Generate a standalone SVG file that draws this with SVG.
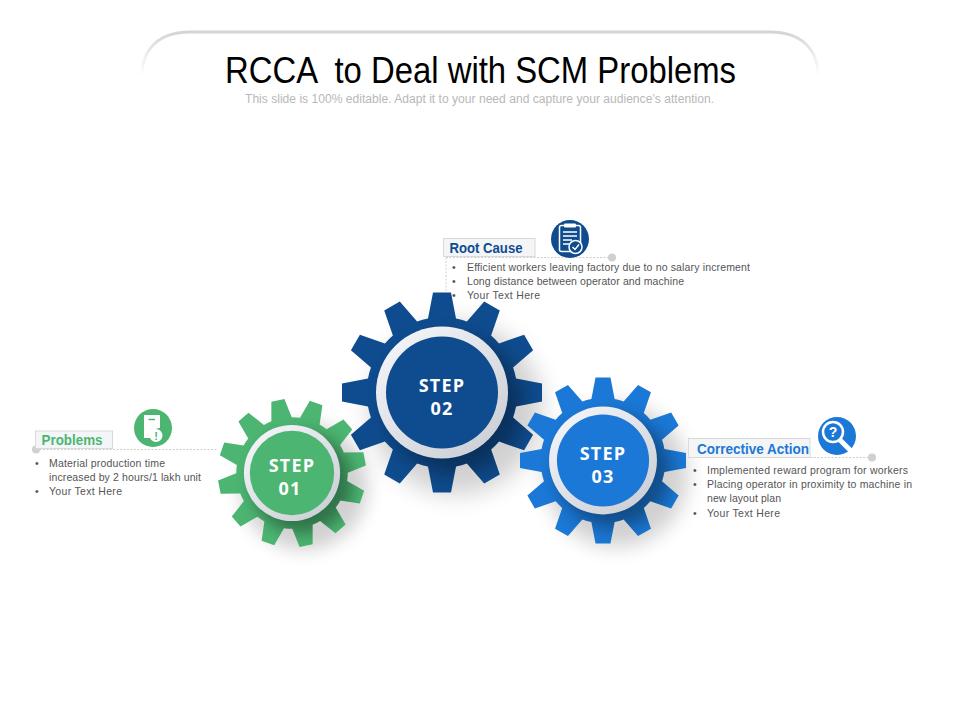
<svg xmlns="http://www.w3.org/2000/svg" width="960" height="720" viewBox="0 0 960 720">
<style>
text{font-family:"Liberation Sans",Arial,sans-serif}
.body{font-size:10.5px;fill:#555}
.hd{font-size:14px;font-weight:700}
.st{font-family:"Open Sans","Liberation Sans",sans-serif;font-size:18px;font-weight:700;fill:#fff;text-anchor:middle;letter-spacing:1.2px}
.box{fill:#f3f5f7;stroke:#d9d9d9;stroke-width:1}
.lead{fill:none;stroke:#cfcfcf;stroke-width:1;stroke-dasharray:2 1.5}
.dot{fill:#d0d0d0}
.ring{fill:url(#ringG)}
.cast{fill:#000;opacity:.18;filter:url(#blurW)}
.inner{fill:#000;opacity:.36;filter:url(#blur)}
</style>
<defs>
<path id="gear" d="M-14-74L-9-100L9-100L14-74A75.3 75.3 0 0 1 24.88-71.08L42.21-91.1L57.79-82.1L49.12-57.08A75.3 75.3 0 0 1 57.08-49.12L82.1-57.79L91.1-42.21L71.08-24.88A75.3 75.3 0 0 1 74-14L100-9L100 9L74 14A75.3 75.3 0 0 1 71.08 24.88L91.1 42.21L82.1 57.79L57.08 49.12A75.3 75.3 0 0 1 49.12 57.08L57.79 82.1L42.21 91.1L24.88 71.08A75.3 75.3 0 0 1 14 74L9 100L-9 100L-14 74A75.3 75.3 0 0 1 -24.88 71.08L-42.21 91.1L-57.79 82.1L-49.12 57.08A75.3 75.3 0 0 1 -57.08 49.12L-82.1 57.79L-91.1 42.21L-71.08 24.88A75.3 75.3 0 0 1 -74 14L-100 9L-100-9L-74-14A75.3 75.3 0 0 1 -71.08-24.88L-91.1-42.21L-82.1-57.79L-57.08-49.12A75.3 75.3 0 0 1 -49.12-57.08L-57.79-82.1L-42.21-91.1L-24.88-71.08A75.3 75.3 0 0 1 -14-74Z"/>
<clipPath id="gearClip"><use href="#gear"/></clipPath>
<filter id="blur" x="-50%" y="-50%" width="200%" height="200%"><feGaussianBlur stdDeviation="11"/></filter>
<filter id="blurW" x="-50%" y="-50%" width="200%" height="200%"><feGaussianBlur stdDeviation="12"/></filter>
<linearGradient id="ringG" x1="0.15" y1="0.1" x2="0.85" y2="0.9"><stop offset="0" stop-color="#f1f3f7"/><stop offset="1" stop-color="#cdd0d6"/></linearGradient>
<linearGradient id="arch" x1="0" y1="0" x2="0" y2="1"><stop offset="0" stop-color="#d4d4d4"/><stop offset=".5" stop-color="#ececec"/><stop offset="1" stop-color="#ffffff"/></linearGradient>
</defs>
<rect width="960" height="720" fill="#fff"/>
<g id="title">
<path d="M142 76C142 48 160 32 190 32H770C800 32 818 48 818 76" fill="#fff" stroke="url(#arch)" stroke-width="3"/>
<text x="225" y="83" font-size="36" fill="#000" xml:space="preserve" textLength="511" lengthAdjust="spacingAndGlyphs">RCCA  to Deal with SCM Problems</text>
<text x="245" y="103" font-size="12" textLength="469" lengthAdjust="spacingAndGlyphs" fill="#b8b8b8">This slide is 100% editable. Adapt it to your need and capture your audience’s attention.</text>
</g>
<g id="connectors">
<path class="lead" d="M446 257.500H612M446 257.500V300"/>
<circle class="dot" cx="612" cy="257.500" r="4"/>
<path class="lead" d="M36 449.500H218"/>
<circle class="dot" cx="36" cy="449.500" r="4"/>
<path class="lead" d="M688 457.500H872"/>
<circle class="dot" cx="872" cy="457.500" r="4"/>
</g>
<g id="step02" transform="translate(442 392.500)">
<circle class="cast" cx="14" cy="16" r="86"/>
<use href="#gear" fill="#0f4c8f"/>
<g clip-path="url(#gearClip)"><circle class="inner" cx="14" cy="14" r="68"/></g>
<circle class="ring" r="66"/><circle r="56" fill="#0f4c8f"/>
<text class="st" y="-1">STEP</text><text class="st" y="22">02</text>
</g>
<g id="step01" transform="translate(292 473)">
<g transform="scale(.74)">
<circle class="cast" cx="16" cy="18" r="86"/>
<g transform="rotate(19)"><use href="#gear" fill="#4cb572"/>
<g clip-path="url(#gearClip)"><circle class="inner" transform="rotate(-19)" cx="14" cy="14" r="68"/></g></g>
<circle class="ring" r="65"/><circle r="57" fill="#4cb572"/>
</g>
<text class="st" y="-1">STEP</text><text class="st" x="-2" y="22">01</text>
</g>
<g id="step03" transform="translate(603 460.500)">
<g transform="scale(.83)">
<circle class="cast" cx="16" cy="18" r="86"/>
<use href="#gear" fill="#1b78d6"/>
<g clip-path="url(#gearClip)"><circle class="inner" cx="14" cy="14" r="68"/></g>
<circle class="ring" r="65"/><circle r="55.500" fill="#1b78d6"/>
</g>
<text class="st" y="-1">STEP</text><text class="st" y="22">03</text>
</g>
<g id="rootcause">
<rect class="box" x="443.500" y="238.500" width="91.500" height="18"/>
<text class="hd" x="449.500" y="253" fill="#0f4c8f" textLength="73" lengthAdjust="spacingAndGlyphs">Root Cause</text>
<circle cx="570" cy="239" r="19" fill="#0f4c8f"/>
<rect x="559.500" y="225.500" width="21" height="26" rx="2" fill="none" stroke="#fff" stroke-width="1.500"/>
<rect x="564" y="223.500" width="12" height="4" rx="1" fill="#fff"/>
<path d="M563 232H577M563 236H577M563 240H572M563 244H569" stroke="#fff" stroke-width="1.300" fill="none"/>
<circle cx="575.500" cy="247" r="6.500" fill="#0f4c8f" stroke="#fff" stroke-width="1.500"/>
<path d="M572.500 247L575 249.500L579 244.500" stroke="#fff" stroke-width="1.500" fill="none"/>
<text class="body" x="452" y="271">•</text>
<text class="body" x="467" y="271" textLength="283">Efficient workers leaving factory due to no salary increment</text>
<text class="body" x="452" y="285">•</text>
<text class="body" x="467" y="285" textLength="217">Long distance between operator and machine</text>
<text class="body" x="452" y="299">•</text>
<text class="body" x="467" y="299" textLength="73">Your Text Here</text>
</g>
<g id="problems">
<rect class="box" x="35.500" y="431" width="77" height="17.500"/>
<text class="hd" x="41.500" y="445" fill="#4cb572" textLength="61" lengthAdjust="spacingAndGlyphs">Problems</text>
<circle cx="153" cy="428" r="19" fill="#4cb572"/>
<path d="M144 415H160V428A8 8 0 0 0 152 438H144Z" fill="#fff"/>
<path d="M148.500 419.500H155" stroke="#4cb572" stroke-width="1.500"/>
<circle cx="156" cy="435.500" r="6.500" fill="#fff"/>
<text x="156" y="439.500" font-size="11" font-weight="700" fill="#4cb572" text-anchor="middle">!</text>
<text class="body" x="35" y="467">•</text>
<text class="body" x="49" y="467" textLength="116">Material production time</text>
<text class="body" x="49" y="481" textLength="152">increased by 2 hours/1 lakh unit</text>
<text class="body" x="35" y="495">•</text>
<text class="body" x="49" y="495" textLength="73">Your Text Here</text>
</g>
<g id="corrective">
<rect class="box" x="688.500" y="438.500" width="121.500" height="19"/>
<text class="hd" x="697" y="453.500" fill="#1b78d6" textLength="112" lengthAdjust="spacingAndGlyphs">Corrective Action</text>
<circle cx="837" cy="436" r="19" fill="#1b78d6"/>
<path d="M840 440L850 450" stroke="#fff" stroke-width="5" stroke-linecap="round"/>
<circle cx="833" cy="432" r="10" fill="#1b78d6" stroke="#fff" stroke-width="2.500"/>
<text x="833" y="437" font-size="14" font-weight="700" fill="#fff" text-anchor="middle">?</text>
<text class="body" x="693" y="474">•</text>
<text class="body" x="707" y="474" textLength="201">Implemented reward program for workers</text>
<text class="body" x="693" y="488">•</text>
<text class="body" x="707" y="488" textLength="205">Placing operator in proximity to machine in</text>
<text class="body" x="707" y="502" textLength="74">new layout plan</text>
<text class="body" x="693" y="517">•</text>
<text class="body" x="707" y="517" textLength="73">Your Text Here</text>
</g>
</svg>
